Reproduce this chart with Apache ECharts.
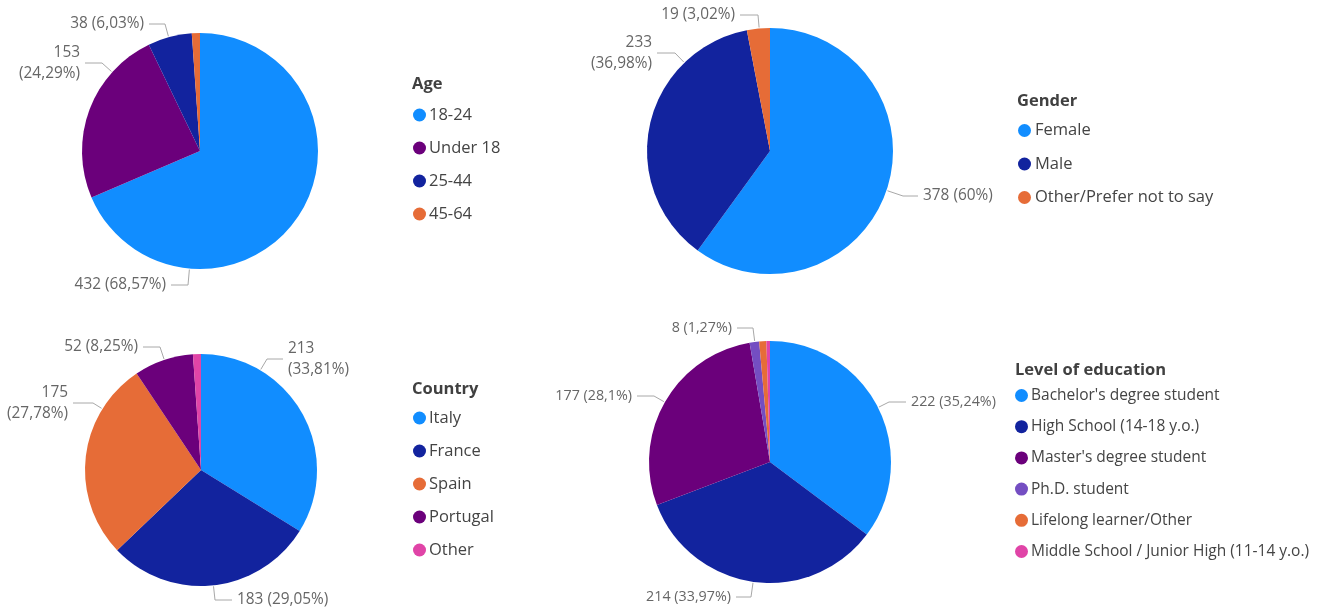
<!DOCTYPE html>
<html>
<head>
<meta charset="utf-8">
<script src="https://cdn.jsdelivr.net/npm/echarts@6/dist/echarts.min.js"></script>
<style>
html,body{margin:0;padding:0;background:#fff;}
#chart{width:1328px;height:607px;}
</style>
</head>
<body>
<div id="chart"></div>
<script>
// ---- data ----
const ageCategories = ['18-24', 'Under 18', '25-44', '45-64'];
const ageValues = [432, 153, 38, 7];
const genderCategories = ['Female', 'Male', 'Other/Prefer not to say'];
const genderValues = [378, 233, 19];
const countryCategories = ['Italy', 'France', 'Spain', 'Portugal', 'Other'];
const countryValues = [213, 183, 175, 52, 7];
const eduCategories = ["Bachelor's degree student", 'High School (14-18 y.o.)', "Master's degree student", 'Ph.D. student', 'Lifelong learner/Other', 'Middle School / Junior High (11-14 y.o.)'];
const eduValues = [222, 214, 177, 8, 6, 3];
const titles = ['Age', 'Gender', 'Country', 'Level of education'];

// ---- styles / layout ----
const C = {blue:'#118DFF', navy:'#12239E', orange:'#E66C37', purple:'#6B007B', violet:'#744EC2', pink:'#E044A7'};
const ageColors = [C.blue, C.purple, C.navy, C.orange];
const genderColors = [C.blue, C.navy, C.orange];
const countryColors = [C.blue, C.navy, C.orange, C.purple, C.pink];
const eduColors = [C.blue, C.navy, C.purple, C.violet, C.orange, C.pink];

const FONT = "'Segoe UI', 'Open Sans', sans-serif";

// label placement per slice: [x, y, align, wrap, leaderLen] ; null = hidden
const ageLabelPos = [[166, 285, 'right', false, 17], [80, 63, 'right', true, 17], [144, 24, 'right', false, 16], null];
const genderLabelPos = [[923, 196, 'left', false, 15], [652, 53, 'right', true, 18], [735, 15, 'right', false, 18]];
const countryLabelPos = [[288, 359, 'left', true, 16], [237, 600, 'left', false, 17], [68, 403, 'right', true, 20], [138, 347, 'right', false, 17], null];
const eduLabelPos = [[911, 402, 'left', false, 17], [731, 597, 'right', false, 15], [632, 396, 'right', false, 17], [732, 328, 'right', false, 16], null, null];

const pies = [
  {cats: ageCategories, vals: ageValues, colors: ageColors, pos: ageLabelPos, center: [200, 151], r: 118, fs: 15.4},
  {cats: genderCategories, vals: genderValues, colors: genderColors, pos: genderLabelPos, center: [770, 151], r: 123, fs: 15.4},
  {cats: countryCategories, vals: countryValues, colors: countryColors, pos: countryLabelPos, center: [201, 470], r: 116, fs: 15.4},
  {cats: eduCategories, vals: eduValues, colors: eduColors, pos: eduLabelPos, center: [770, 462], r: 121, fs: 14.3}
];

const legendPos = [
  {titleLeft: 412, titleTop: 74, left: 413, top: 105, gap: 13, fs: 16.5, pad: -2},
  {titleLeft: 1017, titleTop: 91, left: 1018, top: 120.5, gap: 13.5, fs: 16.5, pad: -1},
  {titleLeft: 412, titleTop: 379, left: 413, top: 408, gap: 13, fs: 16.5, pad: -2},
  {titleLeft: 1015, titleTop: 360, left: 1015, top: 385.5, gap: 11.2, fs: 15.5, pad: -2}
];

function fmtPct(v, total) {
  const p = Math.round(v / total * 10000) / 100;
  return String(p).replace('.', ',') + '%';
}

const series = pies.map((p, si) => {
  const total = p.vals.reduce((a, b) => a + b, 0);
  return {
    type: 'pie',
    center: p.center,
    radius: p.r,
    startAngle: 90,
    clockwise: true,
    avoidLabelOverlap: false,
    itemStyle: {borderWidth: 0},
    emphasis: {disabled: true},
    label: {
      show: true, position: 'outside', color: '#666666', fontSize: p.fs, fontFamily: FONT, lineHeight: 21,
      formatter: (prm) => {
        const cfg = p.pos[prm.dataIndex];
        const pct = fmtPct(prm.value, total);
        return prm.value + (cfg && cfg[3] ? '\n' : ' ') + '(' + pct + ')';
      }
    },
    labelLine: {show: true, length: 10, length2: 14, lineStyle: {color: '#a8a8a8', width: 1}},
    labelLayout: (prm) => {
      const cfg = p.pos[prm.dataIndex];
      if (!cfg) return {};
      const [x, y, align, wrap, len2] = cfg;
      const dir = align === 'right' ? 1 : -1;
      const end = [x + dir * 5, y];
      const elbow = [end[0] + dir * len2, y];
      const vx = elbow[0] - p.center[0], vy = elbow[1] - p.center[1];
      const d = Math.hypot(vx, vy);
      const attach = [p.center[0] + vx / d * (p.r + 1), p.center[1] + vy / d * (p.r + 1)];
      return {x: x, y: y, align: align, verticalAlign: 'middle', labelLinePoints: [attach, elbow, end]};
    },
    data: p.cats.map((c, i) => ({
      name: c, value: p.vals[i],
      itemStyle: {color: p.colors[i]},
      label: {show: !!p.pos[i]},
      labelLine: {show: !!p.pos[i]}
    }))
  };
});

const option = {
  animation: false,
  backgroundColor: '#ffffff',
  title: titles.map((t, i) => ({
    text: t, left: legendPos[i].titleLeft, top: legendPos[i].titleTop, padding: 0,
    textStyle: {fontSize: 16.5, lineHeight: 20, fontWeight: 'bold', color: '#404040', fontFamily: FONT}
  })),
  legend: pies.map((p, i) => ({
    orient: 'vertical', left: legendPos[i].left, top: legendPos[i].top, padding: 0,
    data: p.cats, icon: 'circle', itemWidth: 13, itemHeight: 13, itemGap: legendPos[i].gap,
    selectedMode: false,
    textStyle: {fontSize: legendPos[i].fs, lineHeight: 20, color: '#444444', fontFamily: FONT, padding: [0, 0, 0, legendPos[i].pad]}
  })),
  series: series
};

const chart = echarts.init(document.getElementById('chart'), null, {renderer: 'canvas'});
chart.setOption(option);
</script>
</body>
</html>
